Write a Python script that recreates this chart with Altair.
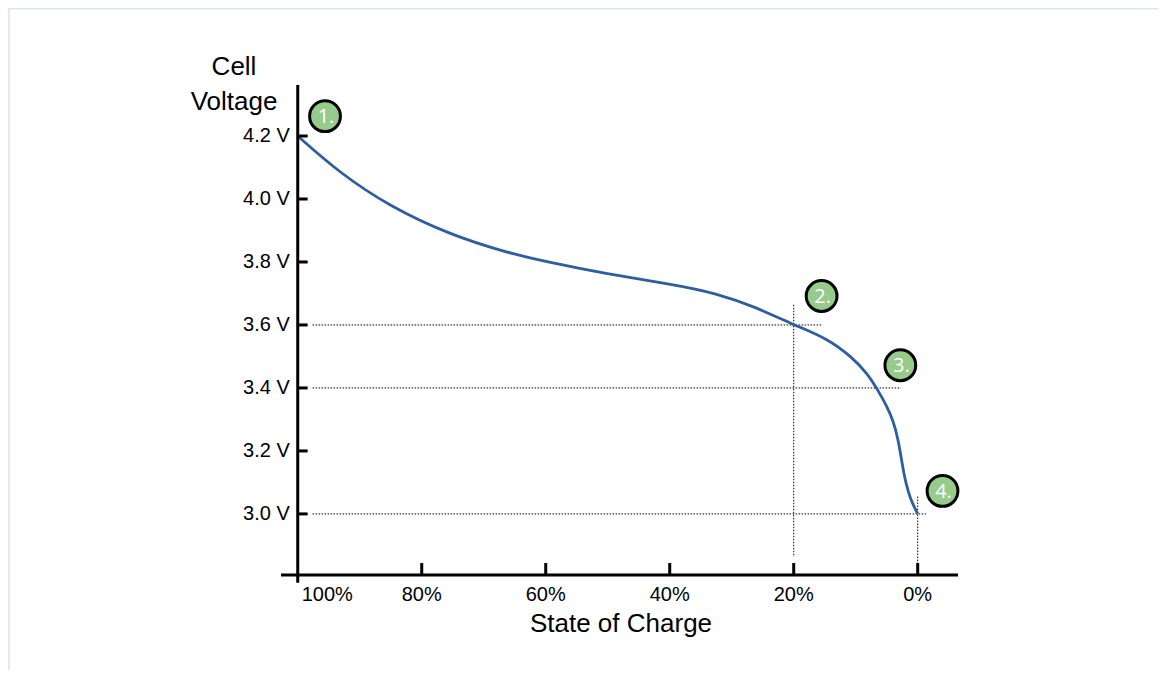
import altair as alt
import pandas as pd

# ---- data ----
soc = [100, 93.2, 85.2, 75.5, 66.3, 60.0, 50.2, 39.5, 32.5, 26.0, 20.0,
       14.73, 10.53, 8.06, 6.45, 5.0, 3.87, 3.15, 2.66, 2.18, 1.53, 0.89, 0.0]
volt = [4.20, 4.082, 3.977, 3.887, 3.830, 3.801, 3.762, 3.729, 3.701, 3.656, 3.600,
        3.559, 3.497, 3.444, 3.394, 3.343, 3.292, 3.235, 3.178, 3.121, 3.070, 3.035, 3.00]

y_tick_values = [4.2, 4.0, 3.8, 3.6, 3.4, 3.2, 3.0]
y_tick_labels = ["4.2 V", "4.0 V", "3.8 V", "3.6 V", "3.4 V", "3.2 V", "3.0 V"]
x_tick_values = [80, 60, 40, 20, 0]
x_tick_labels = ["80%", "60%", "40%", "20%", "0%"]
x_first_label = "100%"

# dotted guide lines
h_guide_y = [3.6, 3.4, 3.0]
h_guide_x1 = [97.6, 97.6, 97.6]
h_guide_x2 = [15.5, 2.7, -1.6]
v_guide_x = [20, 0]
v_guide_y1 = [3.664, 3.055]
v_guide_y2 = [2.863, 2.844]

# numbered markers
marker_labels = ["1.", "2.", "3.", "4."]
marker_x = [95.6, 15.5, 2.8, -4.0]
marker_y = [4.263, 3.692, 3.472, 3.073]

X_DOMAIN = [102.7, -6.5]
Y_DOMAIN = [2.806, 4.362]
AXIS_X = 100
AXIS_Y = 2.806

xs = alt.Scale(domain=X_DOMAIN, nice=False, zero=False)
ys = alt.Scale(domain=Y_DOMAIN, nice=False, zero=False)

curve_df = pd.DataFrame({"x": soc, "y": volt})
hg_df = pd.DataFrame({"y": h_guide_y, "x": h_guide_x1, "x2": h_guide_x2})
vg_df = pd.DataFrame({"x": v_guide_x, "y": v_guide_y1, "y2": v_guide_y2})
ytick_df = pd.DataFrame({"y": y_tick_values, "label": y_tick_labels, "x": AXIS_X, "x2": AXIS_X - 1.6})
xtick_df = pd.DataFrame({"x": x_tick_values, "label": x_tick_labels, "y": AXIS_Y, "y2": AXIS_Y + 0.038})
xfirst_df = pd.DataFrame({"x": [AXIS_X], "label": [x_first_label], "y": [AXIS_Y]})
yaxis_df = pd.DataFrame({"x": [AXIS_X], "y": [Y_DOMAIN[1]], "y2": [2.781]})
xaxis_df = pd.DataFrame({"y": [AXIS_Y], "x": [X_DOMAIN[0]], "x2": [X_DOMAIN[1]]})
mk_df = pd.DataFrame({"x": marker_x, "y": marker_y, "label": marker_labels})
one = pd.DataFrame({"a": [0]})

X = lambda: alt.X("x:Q", scale=xs, axis=None)
Y = lambda: alt.Y("y:Q", scale=ys, axis=None)

FONT = "Liberation Sans"

frame_left = alt.Chart(one).mark_rule(color="#d4e6f0", strokeWidth=1.5).encode(
    x=alt.value(-272), y=alt.value(-77), y2=alt.value(598))
frame_top = alt.Chart(one).mark_rule(color="#d4e6f0", strokeWidth=1.5).encode(
    y=alt.value(-76.5), x=alt.value(-272), x2=alt.value(900))

hguides = alt.Chart(hg_df).mark_rule(color="black", strokeWidth=1, strokeDash=[1.5, 1.5]).encode(
    x=X(), x2="x2:Q", y=Y())
vguides = alt.Chart(vg_df).mark_rule(color="black", strokeWidth=1, strokeDash=[1.5, 1.5]).encode(
    x=X(), y=Y(), y2="y2:Q")

curve = alt.Chart(curve_df).mark_line(color="#2f5e9e", strokeWidth=2.8, interpolate="basis").encode(
    x=X(), y=Y(), order=alt.Order("x:Q", sort="descending"))

yaxis = alt.Chart(yaxis_df).mark_rule(color="black", strokeWidth=3).encode(x=X(), y=Y(), y2="y2:Q")
xaxis = alt.Chart(xaxis_df).mark_rule(color="black", strokeWidth=3).encode(x=X(), x2="x2:Q", y=Y())
yticks = alt.Chart(ytick_df).mark_rule(color="black", strokeWidth=3).encode(x=X(), x2="x2:Q", y=Y())
xticks = alt.Chart(xtick_df).mark_rule(color="black", strokeWidth=3).encode(x=X(), y=Y(), y2="y2:Q")

ylabels = alt.Chart(ytick_df).mark_text(align="right", baseline="middle", dx=-8, font=FONT, fontSize=20,
                                        color="black").encode(x=X(), y=Y(), text="label:N")
xlabels = alt.Chart(xtick_df).mark_text(align="center", baseline="middle", dy=20, font=FONT, fontSize=20,
                                        color="black").encode(x=X(), y=Y(), text="label:N")
xfirst = alt.Chart(xfirst_df).mark_text(align="left", baseline="middle", dx=4, dy=20, font=FONT, fontSize=20,
                                        color="black").encode(x=X(), y=Y(), text="label:N")

ytitle = alt.Chart(one).mark_text(align="center", baseline="alphabetic", font=FONT, fontSize=26,
                                  lineHeight=35, color="black").encode(
    x=alt.value(-47), y=alt.value(-10), text=alt.value(["Cell", "Voltage"]))
xtitle = alt.Chart(one).mark_text(align="center", baseline="middle", font=FONT, fontSize=26,
                                  color="black").encode(
    x=alt.value(340), y=alt.value(539), text=alt.value("State of Charge"))

markers = alt.Chart(mk_df).mark_point(shape="circle", filled=True, fill="#97cb8c", stroke="black",
                                      strokeWidth=3, size=950, opacity=1).encode(x=X(), y=Y())
marker_text = alt.Chart(mk_df).mark_text(align="center", baseline="middle", font="Open Sans", fontSize=20,
                                         fontWeight=500, color="white", dx=1, dy=1).encode(
    x=X(), y=Y(), text="label:N")

chart = alt.layer(
    frame_left, frame_top, hguides, vguides, curve, yaxis, xaxis, yticks, xticks,
    ylabels, xlabels, xfirst, ytitle, xtitle, markers, marker_text
).properties(
    width=677, height=490,
    autosize=alt.AutoSizeParams(type="none"),
    padding={"left": 273, "top": 77, "right": 200, "bottom": 95},
    background="white",
).configure_view(stroke=None)

chart.save("out.html", embed_options={"renderer": "svg", "actions": False})
